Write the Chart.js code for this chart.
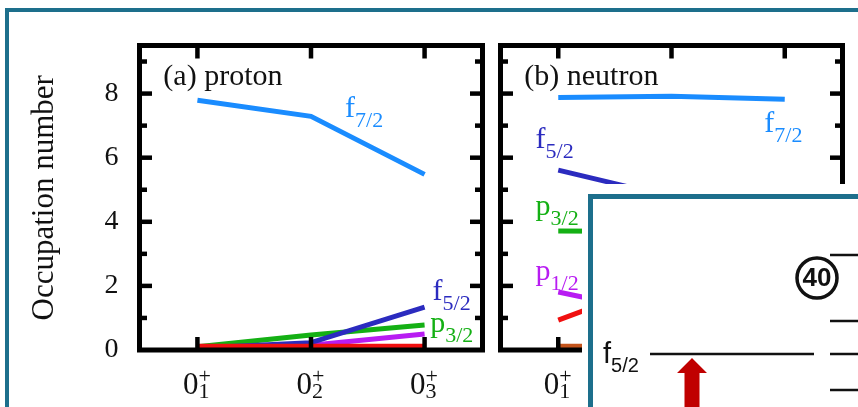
<!DOCTYPE html>
<html>
<head>
<meta charset="utf-8">
<script src="https://cdn.jsdelivr.net/npm/chart.js@4.4.1/dist/chart.umd.min.js"></script>
<style>
  html, body { margin: 0; padding: 0; width: 858px; height: 407px; overflow: hidden; background: #fff; }
  .frame { position: absolute; left: 5px; top: 8px; width: 1000px; height: 600px; border: 4.5px solid #1d6f8c; }
  canvas { position: absolute; }
  #cvA { left: 0; top: 0; }
  #cvB { left: 490px; top: 0; }
  .inset-bg { position: absolute; left: 582px; top: 184px; width: 400px; height: 400px; background: #fff; }
  .inset-frame { position: absolute; left: 588px; top: 194px; width: 600px; height: 400px; border: 5px solid #1d6f8c; }
  #cvInset { left: 582px; top: 184px; }
</style>
</head>
<body>
<div class="frame"></div>
<canvas id="cvA" width="490" height="407"></canvas>
<canvas id="cvB" width="368" height="407"></canvas>
<div class="inset-bg"></div>
<div class="inset-frame"></div>
<canvas id="cvInset" width="276" height="223"></canvas>
<script>
// 状態 0^+_n
const stateX = [1, 2, 3];
const stateSubs = ['1', '2', '3'];
const yTicks = [0, 2, 4, 6, 8];

// (a) proton 占有数
const protonF72 = [7.79, 7.29, 5.48];
const protonF52 = [0.06, 0.23, 1.34];
const protonP32 = [0.10, 0.47, 0.78];
const protonP12 = [0.05, 0.15, 0.50];
const protonG92 = [0.12, 0.12, 0.12];

// (b) neutron 占有数（インセットの下は推定）
const neutronF72 = [7.88, 7.92, 7.82];
const neutronF52 = [5.61, 4.77, 4.40];
const neutronP32 = [3.71, 3.70, 3.50];
const neutronP12 = [1.81, 1.07, 1.20];
const neutronG92 = [0.93, 2.25, 2.60];
const neutronOther = [0.12, 0.12, 0.12];

// インセット：準位エネルギー（任意単位）
const insetLeftLevels = [5.3];
const insetRightLevels = [1.7, 5.3, 8.6, 15.2];
const magicLabel = '40';
const magicEnergy = 12.9;
const arrowTip = 4.9;

const SERIF = '"Liberation Serif", "Times New Roman", serif';
const SANS = '"Liberation Sans", Arial, sans-serif';
const TEXT = '#111';
const COLORS = {
  f72: '#1a8cff',
  f52: '#2b2bbf',
  p32: '#14b014',
  p12: '#b81cf2',
  g92: '#f01010',
  other: '#c4541c',
};

function series(values, color, order) {
  return {
    data: values.map((v, i) => ({ x: stateX[i], y: v })),
    borderColor: color,
    borderWidth: 5,
    borderCapStyle: 'butt',
    pointRadius: 0,
    fill: false,
    tension: 0,
    order,
  };
}

/**
 * 添字付きラベルを描く
 */
function drawSubLabel(ctx, px, py, main, sub, color, size, subSize, family) {
  ctx.fillStyle = color;
  ctx.textBaseline = 'alphabetic';
  ctx.textAlign = 'left';
  ctx.font = `${size}px ${family}`;
  ctx.fillText(main, px, py);
  const w = ctx.measureText(main).width;
  if (sub) {
    ctx.font = `${subSize}px ${family}`;
    ctx.fillText(sub, px + w, py + size * 0.32);
  }
}

/**
 * 枠・内向き目盛・x軸ラベル・系列ラベル
 */
const panelDecor = {
  id: 'panelDecor',
  afterDatasetsDraw(chart, args, opts) {
    const { ctx, chartArea: a, scales: { x, y } } = chart;
    const line = (x1, y1, x2, y2) => { ctx.beginPath(); ctx.moveTo(x1, y1); ctx.lineTo(x2, y2); ctx.stroke(); };
    ctx.save();
    ctx.strokeStyle = '#000';
    ctx.lineCap = 'butt';
    ctx.lineWidth = 4.5;
    for (let v = 1; v <= 9; v++) {
      const py = y.getPixelForValue(v);
      const len = v % 2 === 0 ? 12.5 : 7.5;
      line(a.left, py, a.left + len, py);
      line(a.right, py, a.right - len, py);
    }
    stateX.forEach(v => {
      const px = x.getPixelForValue(v);
      line(px, a.bottom, px, a.bottom - 13);
      line(px, a.top, px, a.top + 13);
    });
    ctx.lineWidth = 5;
    ctx.strokeRect(a.left, a.top, a.right - a.left, a.bottom - a.top);

    // x軸ラベル 0^+_n
    stateX.forEach((v, i) => {
      const px = x.getPixelForValue(v) + 1;
      ctx.fillStyle = TEXT;
      ctx.textBaseline = 'alphabetic';
      ctx.font = `31px ${SERIF}`;
      ctx.textAlign = 'right';
      ctx.fillText('0', px, a.bottom + 44);
      ctx.textAlign = 'left';
      ctx.font = `22px ${SERIF}`;
      ctx.fillText(stateSubs[i], px, a.bottom + 48);
      ctx.fillText('+', px, a.bottom + 33);
    });

    // パネル名と系列ラベル
    ctx.fillStyle = TEXT;
    ctx.font = `30px ${SERIF}`;
    ctx.textAlign = 'left';
    ctx.fillText(opts.title, x.getPixelForValue(0.70), y.getPixelForValue(8.26));
    opts.labels.forEach(l => {
      drawSubLabel(ctx, x.getPixelForValue(l.x), y.getPixelForValue(l.y), l.main, l.sub, l.color, 30, 22, SERIF);
    });
    ctx.restore();
  },
};

function panelOptions(showY, padding, title, labels) {
  return {
    responsive: false,
    animation: false,
    layout: { padding, autoPadding: false },
    scales: {
      x: { type: 'linear', display: false, min: 0.49, max: 3.51 },
      y: {
        type: 'linear',
        display: showY,
        min: 0,
        max: 9.5,
        position: 'left',
        afterFit: s => { s.width = showY ? 139.5 : 0; },
        afterBuildTicks: s => { s.ticks = yTicks.map(v => ({ value: v })); },
        grid: { display: false, drawTicks: false },
        border: { display: false },
        ticks: { padding: 21, color: TEXT, font: { family: SERIF, size: 28 } },
        title: { display: true, text: 'Occupation number', color: TEXT, font: { family: SERIF, size: 31 }, padding: { top: 26 } },
      },
    },
    plugins: {
      legend: { display: false },
      tooltip: { enabled: false },
      panelDecor: { title, labels },
    },
  };
}

// チャート (a): proton
new Chart(document.getElementById('cvA'), {
  type: 'line',
  data: {
    datasets: [
      series(protonF72, COLORS.f72, 4),
      series(protonP12, COLORS.p12, 3),
      series(protonP32, COLORS.p32, 2),
      series(protonF52, COLORS.f52, 1),
      series(protonG92, COLORS.g92, 0),
    ],
  },
  options: panelOptions(true, { left: 0, top: 45.5, right: 7.5, bottom: 57 }, '(a) proton', [
    { x: 2.30, y: 7.26, main: 'f', sub: '7/2', color: COLORS.f72 },
    { x: 3.07, y: 1.56, main: 'f', sub: '5/2', color: COLORS.f52 },
    { x: 3.05, y: 0.56, main: 'p', sub: '3/2', color: COLORS.p32 },
  ]),
  plugins: [panelDecor],
});

// チャート (b): neutron
new Chart(document.getElementById('cvB'), {
  type: 'line',
  data: {
    datasets: [
      series(neutronF72, COLORS.f72, 5),
      series(neutronF52, COLORS.f52, 4),
      series(neutronP32, COLORS.p32, 3),
      series(neutronP12, COLORS.p12, 2),
      series(neutronG92, COLORS.g92, 1),
      series(neutronOther, COLORS.other, 0),
    ],
  },
  options: panelOptions(false, { left: 10.5, top: 45.5, right: 15.5, bottom: 57 }, '(b) neutron', [
    { x: 2.82, y: 6.79, main: 'f', sub: '7/2', color: COLORS.f72 },
    { x: 0.80, y: 6.29, main: 'f', sub: '5/2', color: COLORS.f52 },
    { x: 0.80, y: 4.21, main: 'p', sub: '3/2', color: COLORS.p32 },
    { x: 0.80, y: 2.18, main: 'p', sub: '1/2', color: COLORS.p12 },
  ]),
  plugins: [panelDecor],
});

// インセット：準位図
const leftSpan = [6.8, 23.2];
const rightSpan = [24.8, 28];
const magicX = 23.5;
const arrowX = 11.0;

function levelSet(levels, span) {
  return levels.map(e => ({
    data: span.map(x => ({ x, y: e })),
    borderColor: '#111',
    borderWidth: 2.5,
    pointRadius: 0,
    tension: 0,
  }));
}

const insetDecor = {
  id: 'insetDecor',
  afterDatasetsDraw(chart) {
    const { ctx, scales: { x, y } } = chart;
    ctx.save();
    // 赤矢印
    const ax = x.getPixelForValue(arrowX);
    const tip = y.getPixelForValue(arrowTip);
    const base = y.getPixelForValue(0) + 5;
    ctx.fillStyle = '#c00000';
    ctx.beginPath();
    ctx.moveTo(ax, tip);
    ctx.lineTo(ax + 15, tip + 15);
    ctx.lineTo(ax + 7.5, tip + 15);
    ctx.lineTo(ax + 7.5, base);
    ctx.lineTo(ax - 7.5, base);
    ctx.lineTo(ax - 7.5, tip + 15);
    ctx.lineTo(ax - 15, tip + 15);
    ctx.closePath();
    ctx.fill();
    // 魔法数
    ctx.fillStyle = '#111';
    ctx.font = `bold 26px ${SANS}`;
    ctx.textAlign = 'center';
    ctx.textBaseline = 'middle';
    ctx.fillText(magicLabel, x.getPixelForValue(magicX), y.getPixelForValue(magicEnergy) + 1);
    // f5/2 ラベル
    drawSubLabel(ctx, x.getPixelForValue(2.1), y.getPixelForValue(insetLeftLevels[0]) + 9, 'f', '5/2', '#111', 29, 20, SANS);
    ctx.restore();
  },
};

new Chart(document.getElementById('cvInset'), {
  type: 'line',
  data: {
    datasets: [
      ...levelSet(insetLeftLevels, leftSpan),
      ...levelSet(insetRightLevels, rightSpan),
      {
        data: [{ x: magicX, y: magicEnergy }],
        showLine: false,
        pointRadius: 20,
        borderWidth: 3.5,
        borderColor: '#111',
        backgroundColor: '#fff',
      },
    ],
  },
  options: {
    responsive: false,
    animation: false,
    layout: { padding: 0, autoPadding: false },
    scales: {
      x: { type: 'linear', display: false, min: 0, max: 27.6 },
      y: { type: 'linear', display: false, min: 0, max: 22.3 },
    },
    plugins: { legend: { display: false }, tooltip: { enabled: false } },
  },
  plugins: [insetDecor],
});
</script>
</body>
</html>
